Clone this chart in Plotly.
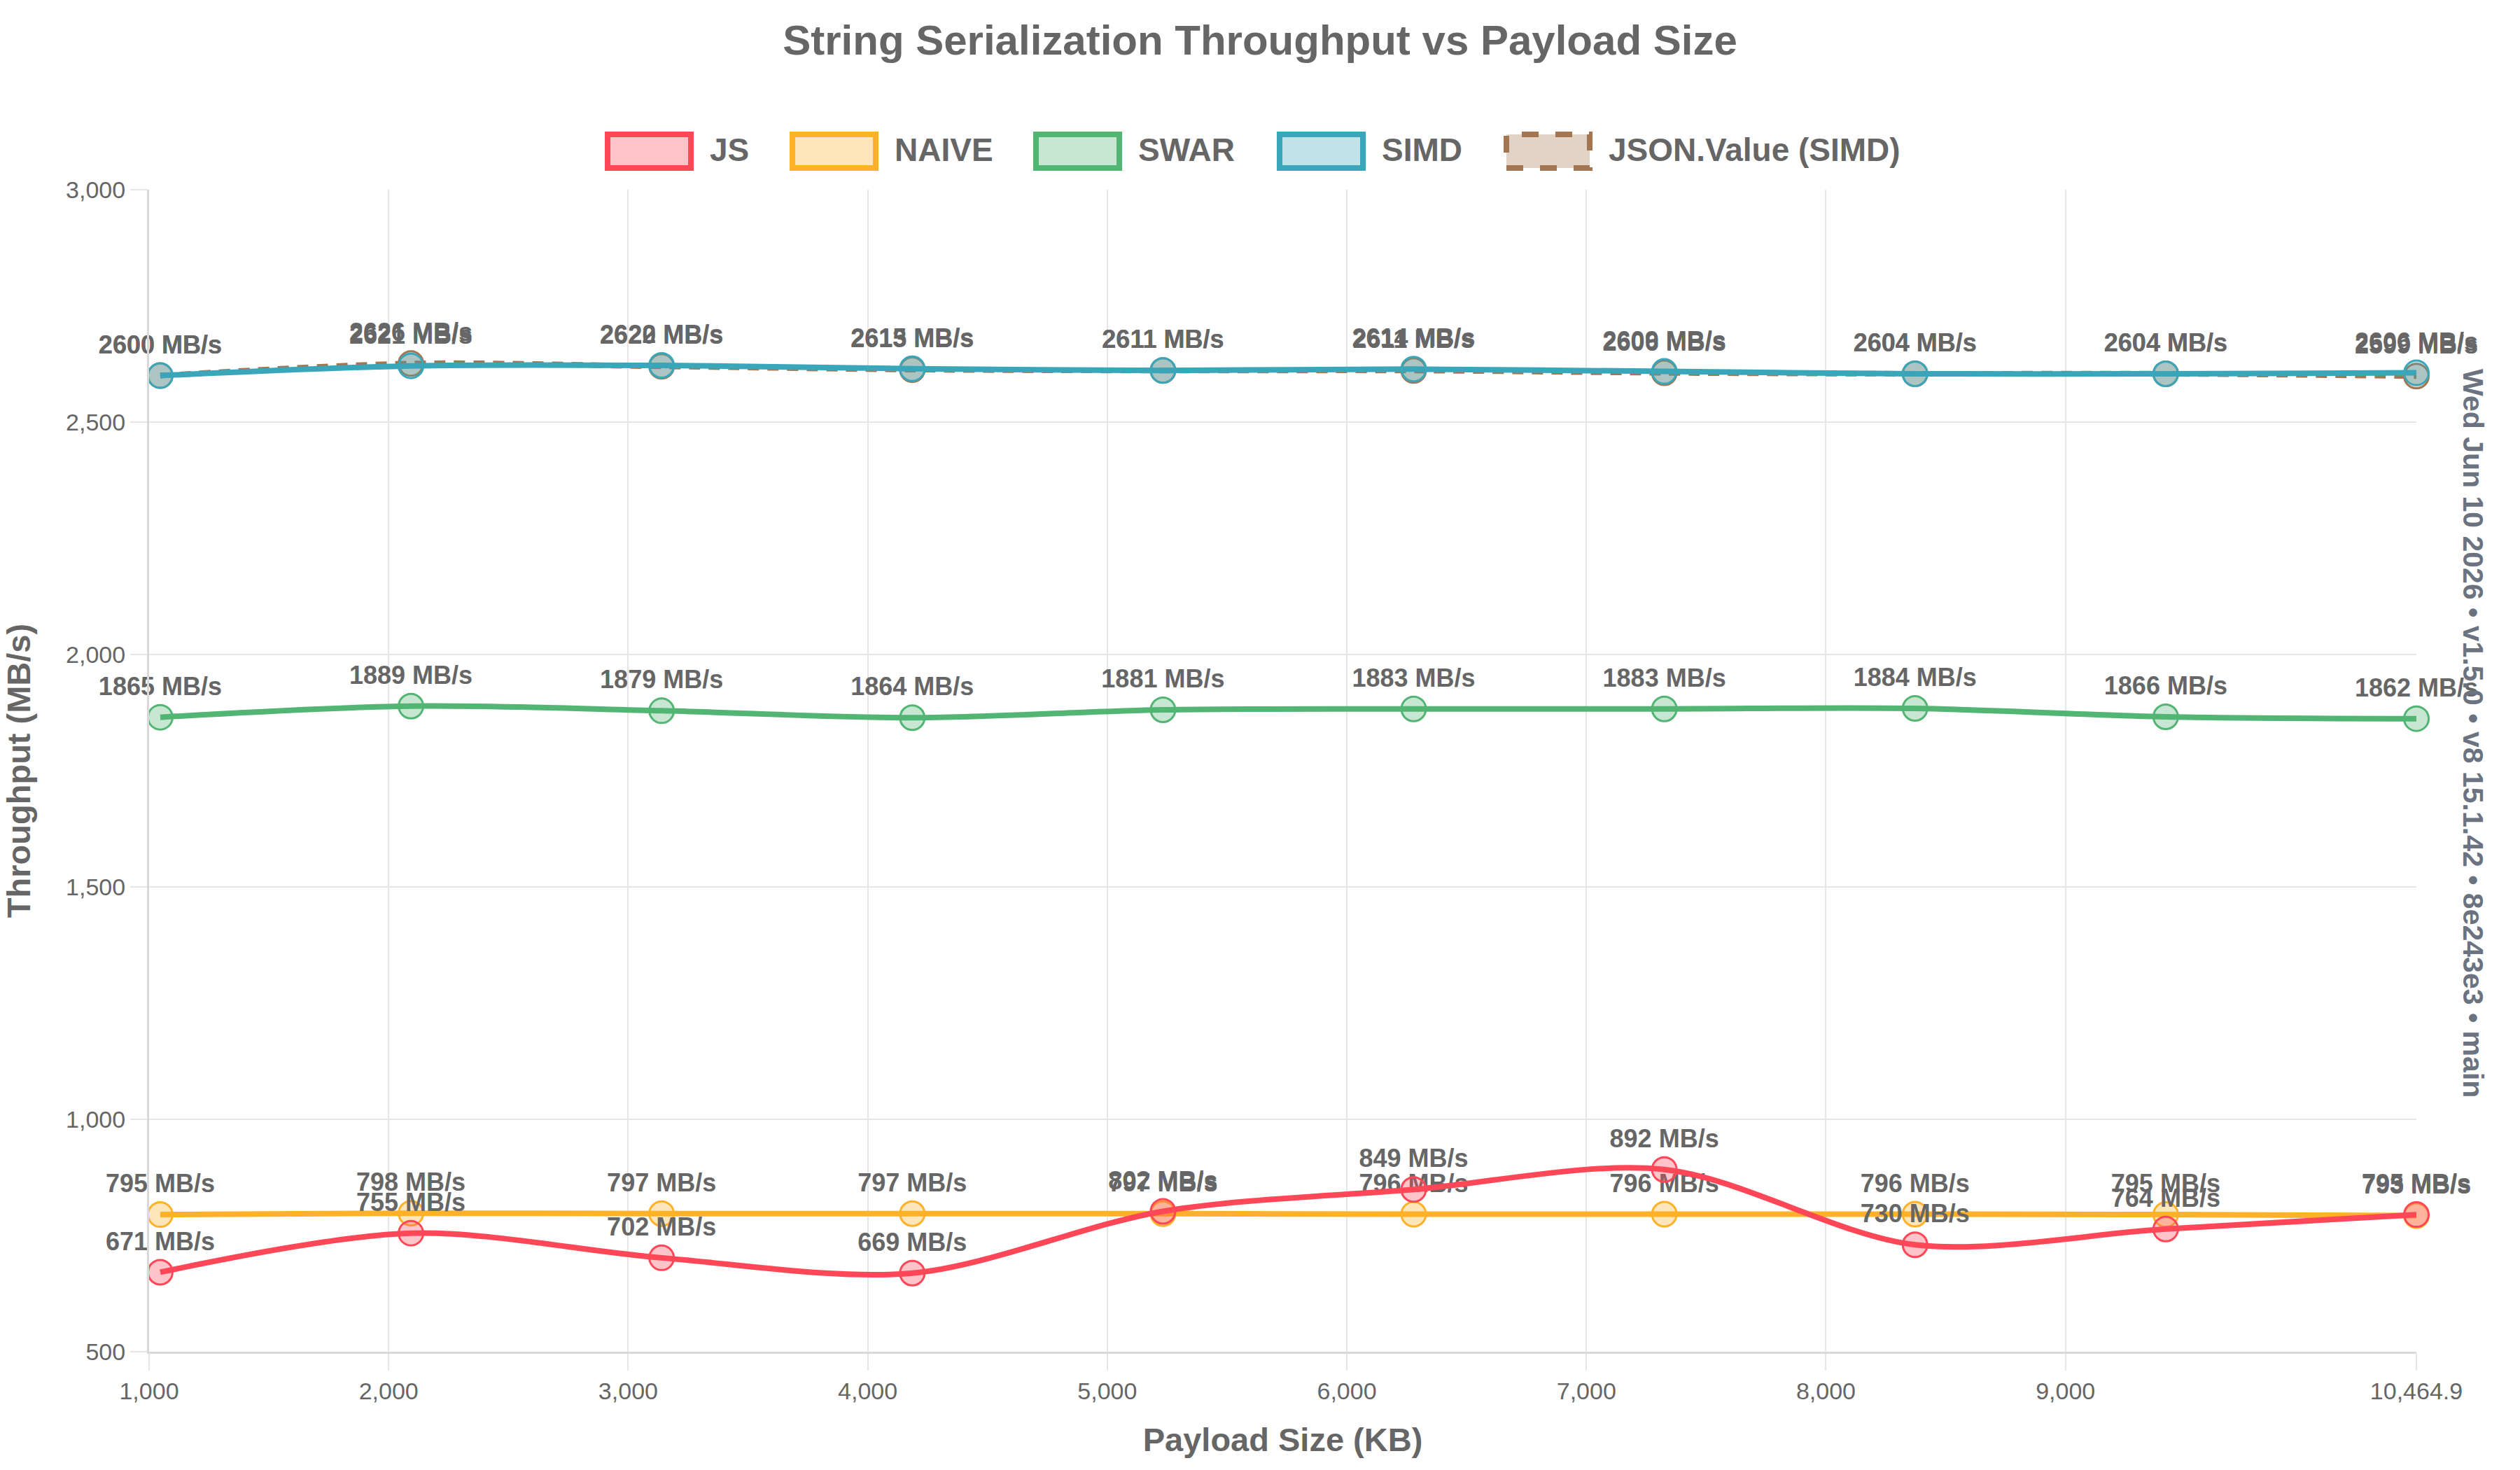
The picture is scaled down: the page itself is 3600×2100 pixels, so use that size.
import plotly.graph_objects as go

# ---------------- data ----------------
payload_kb = [1046.5, 2093.0, 3139.5, 4186.0, 5232.5, 6278.9, 7325.4, 8371.9, 9418.4, 10464.9]
js = [671, 755, 702, 669, 802, 849, 892, 730, 764, 795]
naive = [795, 798, 797, 797, 797, 796, 796, 796, 795, 793]
swar = [1865, 1889, 1879, 1864, 1881, 1883, 1883, 1884, 1866, 1862]
simd = [2600, 2621, 2622, 2615, 2611, 2614, 2609, 2604, 2604, 2606]
json_value_simd = [2600, 2626, 2620, 2613, 2611, 2611, 2606, 2604, 2604, 2599]

series_names = ["JS", "NAIVE", "SWAR", "SIMD", "JSON.Value (SIMD)"]
x_tick_vals = [1000, 2000, 3000, 4000, 5000, 6000, 7000, 8000, 9000, 10464.9]
x_tick_text = ["1,000", "2,000", "3,000", "4,000", "5,000", "6,000", "7,000", "8,000", "9,000", "10,464.9"]
y_tick_vals = [500, 1000, 1500, 2000, 2500, 3000]
y_tick_text = ["500", "1,000", "1,500", "2,000", "2,500", "3,000"]

title_text = "String Serialization Throughput vs Payload Size"
side_text = "Wed Jun 10 2026 • v1.5.0 • v8 15.1.42 • 8e243e3 • main"

# ---------------- styles ----------------
W, H = 3600, 2100
PL, PR, PT, PB = 213, 3452, 271, 1931
TXT = "#666666"
FONT = "Liberation Sans, Arial, Helvetica, sans-serif"

styles = {
    "JS": dict(color="#ff4757", fill="rgba(255,71,87,0.32)", dash="solid"),
    "NAIVE": dict(color="#ffb127", fill="rgba(255,177,39,0.32)", dash="solid"),
    "SWAR": dict(color="#52b573", fill="rgba(82,181,115,0.32)", dash="solid"),
    "SIMD": dict(color="#3aa6b9", fill="rgba(58,166,185,0.32)", dash="solid"),
    "JSON.Value (SIMD)": dict(color="#a47551", fill="rgba(164,117,81,0.32)", dash="dash"),
}
values = {
    "JS": js, "NAIVE": naive, "SWAR": swar, "SIMD": simd,
    "JSON.Value (SIMD)": json_value_simd,
}

fig = go.Figure()
# draw in reverse so the first dataset ends on top (like the reference)
for name in reversed(series_names):
    st = styles[name]
    vals = values[name]
    fig.add_trace(go.Scatter(
        x=payload_kb, y=vals, name=name,
        mode="lines+markers+text",
        line=dict(color=st["color"], width=8, shape="spline", smoothing=0.9,
                  dash="16px,12px" if st["dash"] == "dash" else "solid"),
        marker=dict(size=35, color=st["fill"], line=dict(color=st["color"], width=3)),
        text=[f"{v} MB/s" for v in vals],
        textposition="top center",
        textfont=dict(family=FONT, size=36, color=TXT, weight="bold"),
        showlegend=False,
        cliponaxis=False,
    ))


def px_x(p):
    return (p - PL) / (PR - PL)


def px_y(p):
    return (PB - p) / (PB - PT)


shapes = []
annotations = []
box_x0 = [868, 1132, 1480, 1828, 2152]
for name, bx in zip(series_names, box_x0):
    st = styles[name]
    shapes.append(dict(
        type="rect", xref="paper", yref="paper",
        x0=px_x(bx), x1=px_x(bx + 119), y0=px_y(240), y1=px_y(192),
        fillcolor=st["fill"],
        line=dict(color=st["color"], width=8, dash="dash" if st["dash"] == "dash" else "solid"),
        layer="above",
    ))
    annotations.append(dict(
        text=name, xref="paper", yref="paper",
        x=px_x(bx + 144), y=px_y(214), xanchor="left", yanchor="middle",
        showarrow=False, font=dict(family=FONT, size=46, color=TXT, weight="bold"),
    ))

annotations.append(dict(
    text=side_text, xref="paper", yref="paper",
    x=px_x(3533), y=px_y(1047), xanchor="center", yanchor="middle",
    textangle=90, showarrow=False,
    font=dict(family=FONT, size=41, color="#6b7280", weight="bold"),
))

fig.update_layout(
    width=W, height=H,
    margin=dict(l=PL, r=W - PR, t=PT, b=H - PB),
    paper_bgcolor="white", plot_bgcolor="white",
    font=dict(family=FONT, color=TXT),
    title=dict(text=title_text, x=0.5, xref="container", xanchor="center",
               y=1 - 57 / H, yref="container", yanchor="middle",
               font=dict(family=FONT, size=60, color=TXT, weight="bold")),
    shapes=shapes,
    annotations=annotations,
    showlegend=False,
)
fig.update_xaxes(
    range=[1000, 10464.9], tickmode="array", tickvals=x_tick_vals, ticktext=x_tick_text,
    showgrid=True, gridcolor="#e6e6e6", gridwidth=2,
    showline=True, linecolor="#d9d9d9", linewidth=3,
    ticks="outside", ticklen=24, tickcolor="#e6e6e6", tickwidth=2,
    tickfont=dict(family=FONT, size=34, color=TXT),
    zeroline=False,
    title=dict(text="Payload Size (KB)", standoff=36,
               font=dict(family=FONT, size=47, color=TXT, weight="bold")),
)
fig.update_yaxes(
    range=[500, 3000], tickmode="array", tickvals=y_tick_vals, ticktext=y_tick_text,
    showgrid=True, gridcolor="#e6e6e6", gridwidth=2,
    showline=True, linecolor="#d9d9d9", linewidth=3,
    ticks="outside", ticklen=24, tickcolor="#e6e6e6", tickwidth=2,
    tickfont=dict(family=FONT, size=34, color=TXT),
    zeroline=False,
    title=dict(text="Throughput (MB/s)", standoff=40,
               font=dict(family=FONT, size=47, color=TXT, weight="bold")),
)

fig.write_html("out.html")
